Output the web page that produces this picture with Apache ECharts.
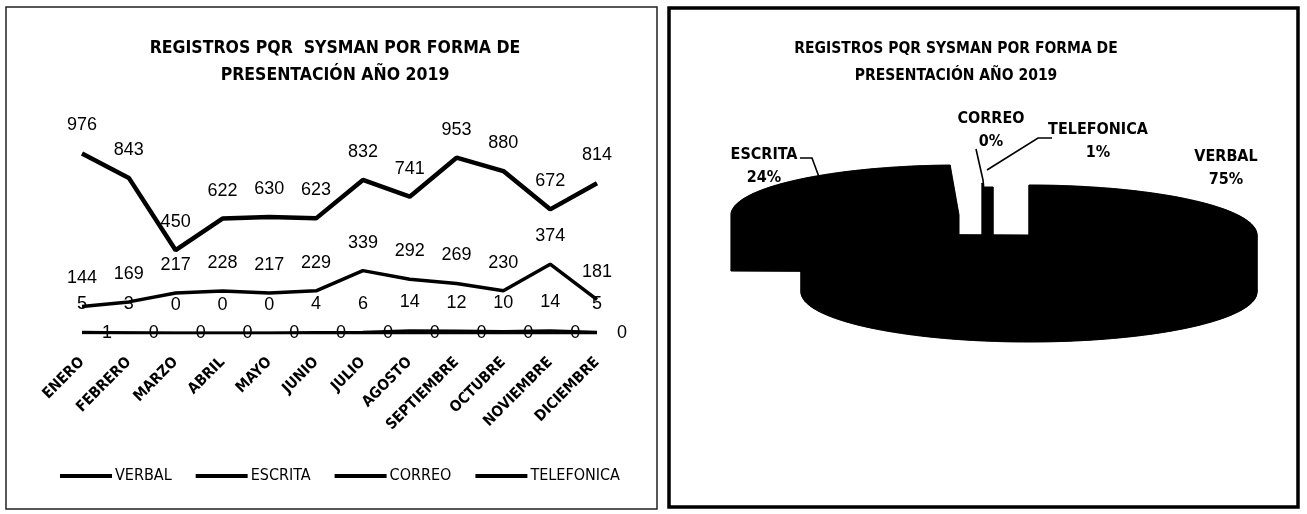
<!DOCTYPE html>
<html>
<head>
<meta charset="utf-8">
<script src="https://cdn.jsdelivr.net/npm/echarts@6/dist/echarts.min.js"></script>
<style>
  html, body { margin: 0; padding: 0; background: #fff; }
  #chart { width: 1307px; height: 514px; }
</style>
</head>
<body>
<div id="chart"></div>
<script>
// Monthly PQR registrations (SYSMAN) by presentation channel, 2019
const months = ['ENERO', 'FEBRERO', 'MARZO', 'ABRIL', 'MAYO', 'JUNIO', 'JULIO',
  'AGOSTO', 'SEPTIEMBRE', 'OCTUBRE', 'NOVIEMBRE', 'DICIEMBRE'];
const verbal     = [976, 843, 450, 622, 630, 623, 832, 741, 953, 880, 672, 814];
const escrita    = [144, 169, 217, 228, 217, 229, 339, 292, 269, 230, 374, 181];
const correo     = [1, 0, 0, 0, 0, 0, 0, 0, 0, 0, 0, 0];
const telefonica = [5, 3, 0, 0, 0, 4, 6, 14, 12, 10, 14, 5];
const channelNames = ['VERBAL', 'ESCRITA', 'CORREO', 'TELEFONICA'];
const chartTitle = 'REGISTROS PQR  SYSMAN POR FORMA DE\nPRESENTACIÓN AÑO 2019';
const pieTitle = 'REGISTROS PQR SYSMAN POR FORMA DE\nPRESENTACIÓN AÑO 2019';

// Yearly totals per channel feed the pie
const channelData = [verbal, escrita, correo, telefonica];
const totals = channelData.map(a => a.reduce((s, v) => s + v, 0));

const NARROW = "'Liberation Sans Narrow', 'DejaVu Sans Condensed', sans-serif";
const SANS = "'Liberation Sans', Arial, sans-serif";

// 3D pie geometry (screen pixels)
const pie = { cx: 1029, cy: 235, rx: 228, ry: 50, depth: 57 };
// per-slice explode offsets, label anchors and leader lines
const pieLayout = [
  { dx: 0,   dy: 0,   label: [1226, 157], leader: null },
  { dx: -70, dy: -20, label: [764, 155],  leader: [[800, 158], [812, 158], [822, 185]] },
  { dx: -38, dy: -2,  label: [991, 119],  leader: [[976, 149], [983, 180], [986, 212]] },
  { dx: -36, dy: 2,   label: [1098, 130], leader: [[1052, 138], [1038, 138], [987, 170]] }
];

const lineWidths = [4.5, 3.5, 3, 2.5];
const labelPos = ['top', 'top', 'right', 'top'];

function buildLine(name, data, i) {
  return {
    name: name,
    type: 'line',
    data: data,
    xAxisIndex: 0,
    yAxisIndex: 0,
    symbol: 'circle',
    symbolSize: 0,
    itemStyle: { color: '#000' },
    lineStyle: { color: '#000', width: lineWidths[i] },
    label: {
      show: true,
      position: labelPos[i],
      distance: labelPos[i] === 'right' ? 20 : 19,
      color: '#000',
      fontFamily: SANS,
      fontSize: 18
    },
    z: 4 - i
  };
}

function renderPie(params, api) {
  const i = params.dataIndex;
  const sum = totals.reduce((s, v) => s + v, 0);
  let start = 0;
  for (let k = 0; k < i; k++) start += totals[k];
  const a0 = start / sum * Math.PI * 2;
  const a1 = (start + api.value(0)) / sum * Math.PI * 2;
  const L = pieLayout[i];
  const cx = pie.cx + L.dx, cy = pie.cy + L.dy;
  const pt = a => [cx + pie.rx * Math.sin(a), cy - pie.ry * Math.cos(a)];

  const outline = [[cx, cy]];
  const steps = Math.max(2, Math.ceil((a1 - a0) / (Math.PI / 90)));
  for (let s = 0; s <= steps; s++) outline.push(pt(a0 + (a1 - a0) * s / steps));
  const down = p => [p[0], p[1] + pie.depth];
  const fill = { fill: '#000', stroke: '#000', lineWidth: 0.6 };

  const children = [];
  // side walls: every outline edge extruded downwards
  for (let s = 0; s < outline.length; s++) {
    const p = outline[s], q = outline[(s + 1) % outline.length];
    children.push({ type: 'polygon', shape: { points: [p, q, down(q), down(p)] }, style: fill });
  }
  children.push({ type: 'polygon', shape: { points: outline.map(down) }, style: fill });
  children.push({ type: 'polygon', shape: { points: outline }, style: fill });

  const pct = Math.round(api.value(0) / sum * 100) + '%';
  const font = { fontFamily: NARROW, fontWeight: 'bold', fontSize: 16 };
  children.push({ type: 'text', style: Object.assign({ text: channelNames[i], x: L.label[0], y: L.label[1],
    align: 'center', verticalAlign: 'middle', fill: '#000' }, font) });
  children.push({ type: 'text', style: Object.assign({ text: pct, x: L.label[0], y: L.label[1] + 23,
    align: 'center', verticalAlign: 'middle', fill: '#000' }, font) });
  if (L.leader) {
    children.push({ type: 'polyline', shape: { points: L.leader },
      style: { stroke: '#000', lineWidth: 1.6, fill: null } });
  }
  return { type: 'group', children: children };
}

const chart = echarts.init(document.getElementById('chart'), null, { renderer: 'canvas' });
chart.setOption({
  backgroundColor: '#fff',
  animation: false,
  title: [
    { text: chartTitle, left: 330, top: 30, textAlign: 'center',
      textStyle: { fontFamily: NARROW, fontWeight: 'bold', fontSize: 17.5, lineHeight: 27, color: '#000' } },
    { text: pieTitle, left: 951, top: 30, textAlign: 'center',
      textStyle: { fontFamily: NARROW, fontWeight: 'bold', fontSize: 15.5, lineHeight: 27, color: '#000' } }
  ],
  legend: {
    data: channelNames,
    left: 55,
    top: 463,
    icon: 'rect',
    itemWidth: 52,
    itemHeight: 4,
    itemGap: 24,
    textStyle: { fontFamily: NARROW, fontSize: 16, color: '#000', padding: [0, 0, 0, -2] }
  },
  grid: { left: 82, right: 710, top: 149, bottom: 181 },
  xAxis: {
    type: 'category',
    data: months,
    boundaryGap: false,
    axisLine: { show: false },
    axisTick: { show: false },
    axisLabel: { interval: 0, rotate: 45, margin: 27, color: '#000',
      fontFamily: NARROW, fontWeight: 'bold', fontSize: 15 }
  },
  yAxis: { type: 'value', min: 0, max: 1000, show: false },
  graphic: [
    { type: 'rect', shape: { x: 6, y: 7, width: 651, height: 502 },
      style: { fill: null, stroke: '#222', lineWidth: 1.5 }, silent: true },
    { type: 'rect', shape: { x: 669, y: 8, width: 629, height: 499 },
      style: { fill: null, stroke: '#000', lineWidth: 3.5 }, silent: true }
  ],
  series: [
    buildLine(channelNames[0], verbal, 0),
    buildLine(channelNames[1], escrita, 1),
    buildLine(channelNames[2], correo, 2),
    buildLine(channelNames[3], telefonica, 3),
    {
      type: 'custom',
      coordinateSystem: 'none',
      data: totals.map((v, i) => ({ name: channelNames[i], value: [v] })),
      renderItem: renderPie,
      silent: true
    }
  ]
});
</script>
</body>
</html>
